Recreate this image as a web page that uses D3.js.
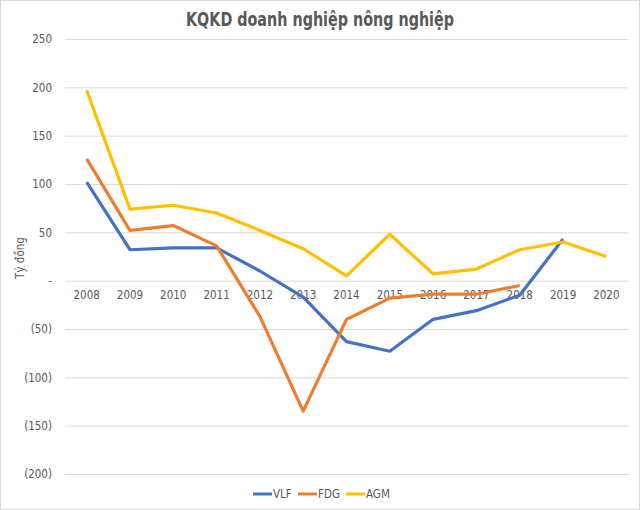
<!DOCTYPE html>
<html>
<head>
<meta charset="utf-8">
<script src="https://cdn.jsdelivr.net/npm/d3@7"></script>
<style>
  body { margin: 0; background: #fff; }
  svg { display: block; }
  text { font-family: "DejaVu Sans Condensed", "DejaVu Sans", sans-serif; fill: #595959; }
</style>
</head>
<body>
<div id="chart"></div>
<script>
var years = ['2008', '2009', '2010', '2011', '2012', '2013', '2014', '2015', '2016', '2017', '2018', '2019', '2020'];
var vlf = [102, 32, 34, 34, 10, -17, -63, -73, -40, -31, -15, 43, null];
var fdg = [126, 52, 57, 36, -37, -135, -40, -18, -14, -14, -5, null, null];
var agm = [197, 74, 78, 70, 52, 33, 5, 48, 7, 12, 32, 40, 25];
var yTicks = [250, 200, 150, 100, 50, 0, -50, -100, -150, -200];

var series = [
    { name: 'VLF', values: vlf, color: '#4472C4' },
    { name: 'FDG', values: fdg, color: '#ED7D31' },
    { name: 'AGM', values: agm, color: '#FFC000' }
];

var width = 640,
    height = 510;

var svg = d3.select('#chart')
    .append('svg')
    .attr('width', width)
    .attr('height', height);

// outer border like the exported chart
svg.append('rect')
    .attr('x', 0.5)
    .attr('y', 0.5)
    .attr('width', width - 1)
    .attr('height', height - 1)
    .attr('fill', '#fff')
    .attr('stroke', '#d9d9d9');

var x = d3.scaleBand()
    .domain(years)
    .range([65, 628]);

var y = d3.scaleLinear()
    .domain([-200, 250])
    .range([474, 39]);

var fmt = function (v) {
    if (v === 0) return '-';
    if (v < 0) return '(' + Math.abs(v) + ')';
    return String(v);
};

// gridlines + y labels
var yAxis = d3.axisLeft(y)
    .tickValues(yTicks)
    .tickSize(-(628 - 65))
    .tickPadding(13)
    .tickFormat(fmt);

var gy = svg.append('g')
    .attr('transform', 'translate(65,0)')
    .call(yAxis);
gy.select('.domain').remove();
gy.selectAll('.tick line').attr('stroke', '#d9d9d9');
gy.selectAll('.tick text')
    .style('font-size', '11.5px')
    .attr('fill', '#595959');

// category labels sit under the zero line
var xAxis = d3.axisBottom(x)
    .tickSize(0)
    .tickPadding(10);

var gx = svg.append('g')
    .attr('transform', 'translate(0,' + y(0) + ')')
    .call(xAxis);
gx.select('.domain').remove();
gx.selectAll('.tick text')
    .style('font-size', '11.5px')
    .attr('fill', '#595959');

var line = d3.line()
    .defined(function (d) { return d !== null; })
    .x(function (d, i) { return x(years[i]) + x.bandwidth() / 2; })
    .y(function (d) { return y(d); });

series.forEach(function (s) {
    svg.append('path')
        .datum(s.values)
        .attr('fill', 'none')
        .attr('stroke', s.color)
        .attr('stroke-width', 3.2)
        .attr('stroke-linejoin', 'round')
        .attr('d', line);
});

// title (squeezed to the original's width)
svg.append('text')
    .attr('x', 320)
    .attr('y', 26)
    .attr('text-anchor', 'middle')
    .attr('textLength', 268)
    .attr('lengthAdjust', 'spacingAndGlyphs')
    .style('font-size', '19px')
    .style('font-weight', 'bold')
    .text('KQKD doanh nghiệp nông nghiệp');

// y axis title
svg.append('text')
    .attr('transform', 'translate(24,258) rotate(-90)')
    .attr('text-anchor', 'middle')
    .style('font-size', '11.5px')
    .text('Tỷ đồng');

// legend
var legendX = [253, 298, 346];
var legend = svg.append('g');
series.forEach(function (s, i) {
    legend.append('line')
        .attr('x1', legendX[i])
        .attr('x2', legendX[i] + 19)
        .attr('y1', 494)
        .attr('y2', 494)
        .attr('stroke', s.color)
        .attr('stroke-width', 3);
    legend.append('text')
        .attr('x', legendX[i] + 20)
        .attr('y', 498)
        .style('font-size', '11.5px')
        .text(s.name);
});
</script>
</body>
</html>
